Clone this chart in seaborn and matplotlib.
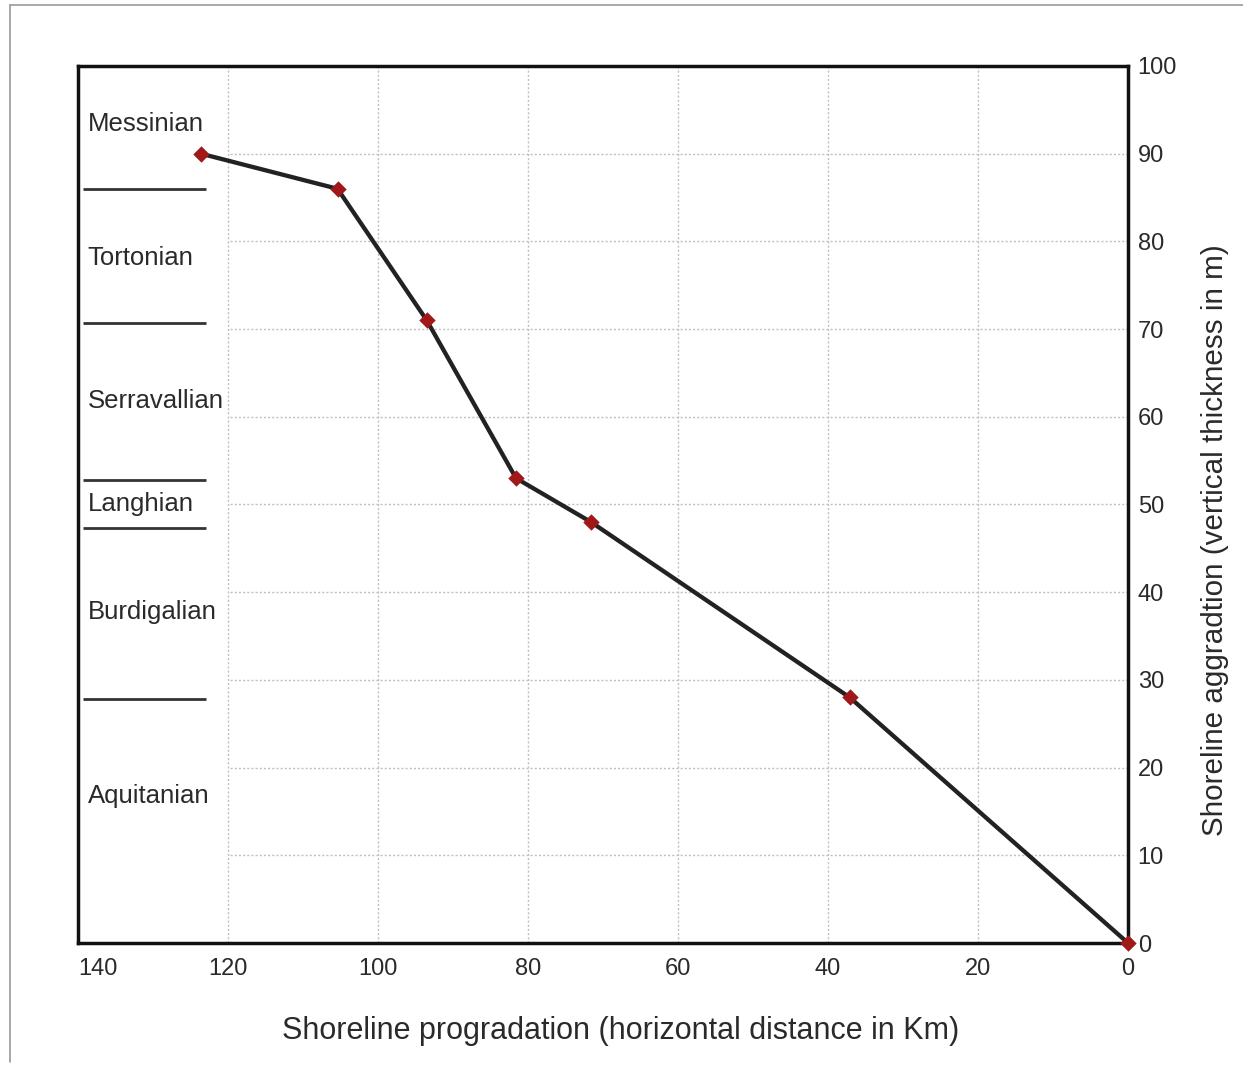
import matplotlib
matplotlib.use("Agg")
import matplotlib.pyplot as plt
import seaborn as sns
import pandas as pd
from matplotlib.lines import Line2D

# Shoreline trajectory points
progradation_km = [123.6, 105.4, 93.5, 81.6, 71.6, 37.1, 0.0]
aggradation_m = [90.0, 86.0, 71.0, 53.0, 48.0, 28.0, 0.0]

# Stage names and their label heights (m)
stage_names = ["Messinian", "Tortonian", "Serravallian", "Langhian", "Burdigalian", "Aquitanian"]
stage_label_y = [93.4, 78.1, 61.8, 50.1, 37.7, 16.8]
stage_boundaries = [86.0, 70.7, 52.8, 47.3, 27.8]

x_ticks = [140, 120, 100, 80, 60, 40, 20, 0]
y_ticks = [0, 10, 20, 30, 40, 50, 60, 70, 80, 90, 100]

sns.set_theme(style="white")
plt.rcParams["font.family"] = ["Liberation Sans", "DejaVu Sans"]

df = pd.DataFrame({"x": progradation_km, "y": aggradation_m})

fig = plt.figure(figsize=(12.43, 10.65), dpi=100)
ax = fig.add_axes([78 / 1243, 1 - 943 / 1065, 1050 / 1243, 877 / 1065])

# grid: vertical lines full height, horizontal lines only right of 120 km
grid_kw = dict(color="#c0c0c0", linewidth=1.0, linestyle=(0, (1.5, 1.5)), zorder=0)
ax.vlines([t for t in x_ticks if 0 < t < 140], 0, 100, **grid_kw)
ax.hlines([t for t in y_ticks if 0 < t < 100], 0, 120, **grid_kw)

sns.lineplot(data=df, x="x", y="y", ax=ax, color="#222222", linewidth=3.1,
             sort=False, zorder=3)
sns.scatterplot(data=df, x="x", y="y", ax=ax, marker="D", s=70, color="#a01818",
                edgecolor="#a01818", linewidth=0, zorder=4, clip_on=False)

# stage boundaries and names
ax.hlines(stage_boundaries, 139.3, 123.0, color="#333333", linewidth=2.0, zorder=2)
for name, yv in zip(stage_names, stage_label_y):
    ax.text(138.7, yv, name, ha="left", va="center", fontsize=18.5, color="#2a2a2a")

ax.set_xlim(140, 0)
ax.set_ylim(0, 100)
ax.set_xticks(x_ticks)
ax.set_yticks(y_ticks)
ax.yaxis.tick_right()
ax.yaxis.set_label_position("right")
ax.tick_params(axis="both", length=0, labelsize=17, labelcolor="#2a2a2a")
ax.tick_params(axis="x", pad=11)
ax.tick_params(axis="y", pad=7)
ax.get_xticklabels()[0].set_horizontalalignment("left")
for s in ax.spines.values():
    s.set_visible(True)
    s.set_color("#111111")
    s.set_linewidth(2.5)

ax.set_xlabel("Shoreline progradation (horizontal distance in Km)", fontsize=22,
              color="#2a2a2a")
ax.xaxis.set_label_coords(0.517, -0.100)
ax.xaxis.label.set_va("center")
ax.set_ylabel("Shoreline aggradtion (vertical thickness in m)", fontsize=21.3,
              color="#2a2a2a")
ax.yaxis.set_label_coords(1.083, 0.4595)
ax.yaxis.label.set_va("center")

# thin outer frame lines along the top and left
fig.add_artist(Line2D([10 / 1243, 1.0], [1 - 5 / 1065] * 2, transform=fig.transFigure,
                      color="#999999", linewidth=1.2))
fig.add_artist(Line2D([10 / 1243] * 2, [1 - 5 / 1065, 1 - 1062 / 1065],
                      transform=fig.transFigure, color="#999999", linewidth=1.2))

fig.savefig("out.png", dpi=100)
